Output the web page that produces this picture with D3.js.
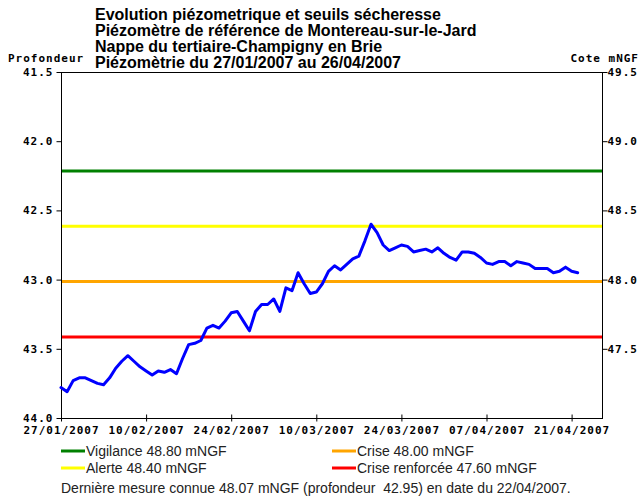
<!DOCTYPE html>
<html><head><meta charset="utf-8">
<script src="https://cdn.jsdelivr.net/npm/d3@7"></script>
<style>
html,body{margin:0;padding:0;background:#fff;}
svg{display:block;}
.mono{font-family:"DejaVu Sans Mono",monospace;font-weight:bold;font-size:11px;letter-spacing:1px;fill:#000;}
.title{font-family:"Liberation Sans",Arial,sans-serif;font-weight:bold;font-size:16px;fill:#000;}
.leg{font-family:"Liberation Sans",Arial,sans-serif;font-size:14px;fill:#222;white-space:pre;}
</style>
</head><body>
<svg id="chart" width="641" height="500"></svg>
<script>
// ---- data ----
const titleLines = [
  "Evolution piézometrique et seuils sécheresse",
  "Piézomètre de référence de Montereau-sur-le-Jard",
  "Nappe du tertiaire-Champigny en Brie",
  "Piézomètrie du 27/01/2007 au 26/04/2007"
];
const startDate = "2007-01-27";
const endDate = "2007-04-26";
// depth (profondeur, m) measured daily from 27/01/2007 to 22/04/2007
const depthValues = [
  43.78,43.81,43.73,43.71,43.71,43.73,43.75,43.76,43.71,43.64,
  43.59,43.55,43.59,43.63,43.66,43.69,43.66,43.67,43.65,43.68,
  43.57,43.47,43.46,43.44,43.35,43.33,43.35,43.30,43.24,43.23,
  43.30,43.37,43.23,43.18,43.18,43.14,43.23,43.06,43.08,42.95,
  43.03,43.10,43.09,43.03,42.94,42.90,42.93,42.89,42.85,42.83,
  42.72,42.60,42.66,42.75,42.79,42.77,42.75,42.76,42.80,42.79,
  42.78,42.80,42.77,42.81,42.84,42.86,42.80,42.80,42.81,42.84,
  42.88,42.89,42.87,42.87,42.90,42.87,42.88,42.89,42.92,42.92,
  42.92,42.95,42.94,42.91,42.94,42.95
];
const thresholdNames = ["Vigilance","Alerte","Crise","Crise renforcée"];
const thresholdValues = [48.80, 48.40, 48.00, 47.60]; // mNGF
const thresholdColors = ["#008000","#ffff00","#ffa500","#ff0000"];
const depthTicks = [41.5,42.0,42.5,43.0,43.5,44.0];
const coteTicks = [49.5,49.0,48.5,48.0,47.5];
const xTickLabels = ["27/01/2007","10/02/2007","24/02/2007","10/03/2007","24/03/2007","07/04/2007","21/04/2007"];
const leftAxisTitle = "Profondeur";
const rightAxisTitle = "Cote mNGF";
const footerText = "Dernière mesure connue 48.07 mNGF (profondeur  42.95) en date du 22/04/2007.";
const refSum = 91.0; // cote = refSum - profondeur

// ---- layout ----
const L = 61, R = 602, T = 72, B = 418;
const svg = d3.select("#chart");
const parse = d3.utcParse("%Y-%m-%d");
const parseTick = d3.utcParse("%d/%m/%Y");
const fmt = d3.utcFormat("%d/%m/%Y");

const x = d3.scaleUtc().domain([parse(startDate), parse(endDate)]).range([L, R]);
const yDepth = d3.scaleLinear().domain([41.5, 44.0]).range([T, B]);
const yCote = d3.scaleLinear().domain([refSum-41.5, refSum-44.0]).range([T, B]);

const dates = d3.utcDay.range(parse(startDate), d3.utcDay.offset(parse(startDate), depthValues.length));
const series = depthValues.map((v,i)=>({date:dates[i], depth:v}));

// title
svg.append("g").selectAll("text").data(titleLines).join("text")
  .attr("class","title").attr("x",95).attr("y",(d,i)=>20+i*16).text(d=>d);

svg.append("text").attr("class","mono").attr("x",8).attr("y",62).text(leftAxisTitle);
svg.append("text").attr("class","mono").attr("x",639).attr("y",62).attr("text-anchor","end").text(rightAxisTitle);

// frame
svg.append("rect").attr("x",L+0.5).attr("y",T+0.5).attr("width",R-L).attr("height",B-T)
  .attr("fill","#fff").attr("stroke","#000").attr("stroke-width",1);

// thresholds
svg.append("g").attr("transform","translate(0,2)").selectAll("line").data(thresholdValues).join("line")
  .attr("x1",L+1).attr("x2",R)
  .attr("y1",d=>yCote(d)).attr("y2",d=>yCote(d))
  .attr("stroke",(d,i)=>thresholdColors[i]).attr("stroke-width",3);

// left axis
const la = d3.axisLeft(yDepth).tickValues(depthTicks).tickSize(5).tickFormat(d3.format(".1f"));
const gL = svg.append("g").attr("transform",`translate(${L+0.5},0)`).call(la);
// right axis
const ra = d3.axisRight(yCote).tickValues(coteTicks).tickSize(5).tickFormat(d3.format(".1f"));
const gR = svg.append("g").attr("transform",`translate(${R+0.5},0)`).call(ra);
// bottom axis
const xa = d3.axisBottom(x).tickValues(xTickLabels.map(parseTick)).tickSize(0).tickFormat(fmt);
const gB = svg.append("g").attr("transform",`translate(0,${B+0.5})`).call(xa);
[gL,gR,gB].forEach(g=>{
  g.select(".domain").remove();
  g.selectAll("text").attr("class","mono").attr("font-family",null).attr("font-size",null);
  g.selectAll("line").attr("stroke","#000");
});
gL.selectAll("text").attr("x",-8).attr("dy","0.32em");
gR.selectAll("text").attr("x",5).attr("dy","0.32em");
gB.selectAll("text").attr("y",8).attr("dy","0.71em");
gB.selectAll(".tick").append("line").attr("y1",-4).attr("y2",3).attr("stroke","#000");

// data line
const line = d3.line().x(d=>x(d.date)).y(d=>yDepth(d.depth)).curve(d3.curveLinear);
svg.append("path").datum(series).attr("d",line)
  .attr("fill","none").attr("stroke","#0000ff").attr("stroke-width",3)
  .attr("stroke-linejoin","round").attr("stroke-linecap","round");

// legend
const legPos = [[61,451],[61,468],[332,451],[332,468]];
const legOrder = [0,1,2,3];
const lg = svg.append("g");
legOrder.forEach((k,i)=>{
  const [lx,ly] = legPos[i];
  lg.append("line").attr("x1",lx).attr("x2",lx+24).attr("y1",ly).attr("y2",ly)
    .attr("stroke",thresholdColors[k]).attr("stroke-width",3);
  lg.append("text").attr("class","leg").attr("x",lx+25).attr("y",ly+5)
    .text(`${thresholdNames[k]} ${d3.format(".2f")(thresholdValues[k])} mNGF`);
});
svg.append("text").attr("class","leg").attr("x",61).attr("y",493).text(footerText);
</script>
</body></html>
